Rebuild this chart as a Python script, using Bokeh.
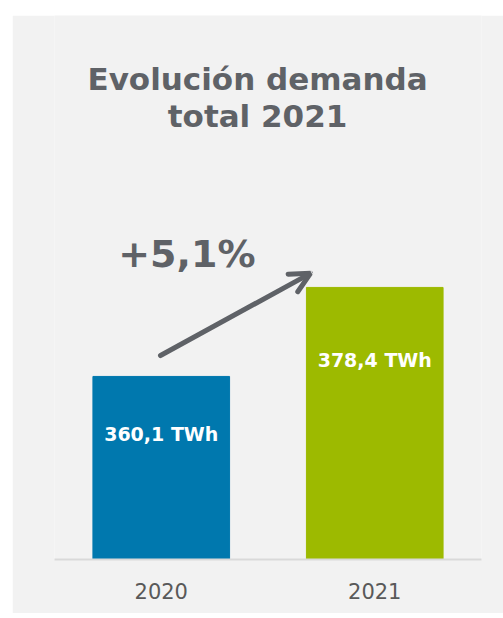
from bokeh.plotting import figure
from bokeh.models import ColumnDataSource, FactorRange, Range1d, Arrow, OpenHead, Label
from bokeh.embed import file_html
from bokeh.resources import INLINE
from bokeh.core.properties import value

# data
years = ["2020", "2021"]
demand_twh = [360.1, 378.4]
bar_labels = ["360,1 TWh", "378,4 TWh"]
bar_colors = ["#0078AE", "#9DBA00"]
growth_label = "+5,1%"
title_text = ["Evolución demanda", "total 2021"]

FONT = "DejaVu Sans"
GRAY = "#5f6267"

src = ColumnDataSource(dict(year=years, val=demand_twh, lab=bar_labels, col=bar_colors,
                            yoff=[58, 73]))

p = figure(width=491, height=598, x_range=FactorRange(*years),
           y_range=Range1d(322.47, 434.3),
           output_backend="svg", toolbar_location=None,
           min_border_left=42, min_border_right=22, min_border_bottom=54, min_border_top=0)
p.margin = (15, 0, 0, 12)
p.background_fill_color = "#F2F2F2"
p.border_fill_color = "#F2F2F2"
p.outline_line_color = None
p.grid.visible = False
p.yaxis.visible = False

p.vbar(x="year", top="val", bottom=322.47, width=0.64, color="col", source=src)

p.text(x="year", y="val", text="lab", source=src, y_offset="yoff",
       text_align="center", text_baseline="middle", text_color="white",
       text_font=value(FONT), text_font_style="bold", text_font_size="19px")

# title
p.add_layout(Label(x=0.951, y=421.2, text=title_text[0], text_align="center",
                   text_baseline="alphabetic", text_font=FONT, text_font_style="bold",
                   text_font_size="31px", text_color=GRAY))
p.add_layout(Label(x=0.951, y=413.6, text=title_text[1], text_align="center",
                   text_baseline="alphabetic", text_font=FONT, text_font_style="bold",
                   text_font_size="31px", text_color=GRAY))

p.add_layout(Label(x=0.62, y=385.2, text=growth_label, text_align="center",
                   text_baseline="alphabetic", text_font=FONT, text_font_style="bold",
                   text_font_size="38px", text_color=GRAY))

p.add_layout(Arrow(x_start=0.4965, y_start=364.4, x_end=1.199, y_end=381.3,
                   line_color=GRAY, line_width=5, line_cap="round",
                   end=OpenHead(size=20, line_color=GRAY, line_width=5, line_cap="round")))

ax = p.xaxis[0]
ax.axis_line_color = "#D9D9D9"
ax.axis_line_width = 2
ax.major_tick_line_color = None
ax.minor_tick_line_color = None
ax.major_label_text_font = FONT
ax.major_label_text_font_size = "21px"
ax.major_label_text_color = "#595959"
ax.major_label_standoff = 17

open("out.html", "w").write(file_html(p, INLINE))
